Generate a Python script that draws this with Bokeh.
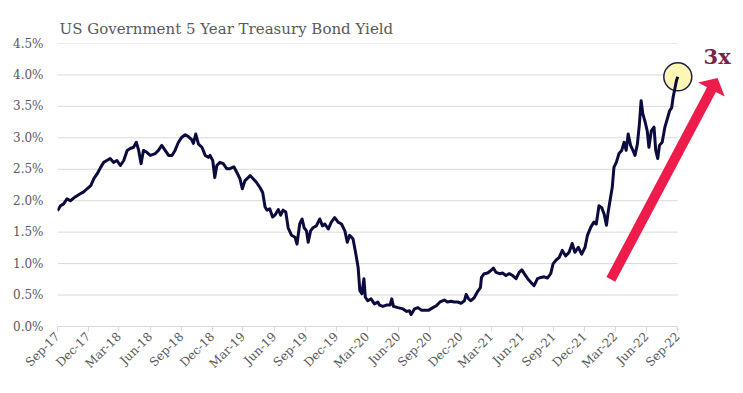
import pandas as pd
from bokeh.plotting import figure
from bokeh.models import (Range1d, FixedTicker, DatetimeTickFormatter, PrintfTickFormatter,
                          PolyAnnotation, Label)
from bokeh.embed import file_html
from bokeh.resources import INLINE

# ---------------- data ----------------
dates = [
    "2017-09-26", "2017-10-05", "2017-10-14", "2017-10-24", "2017-11-03", "2017-11-17",
    "2017-12-02", "2017-12-12", "2017-12-22", "2018-01-02", "2018-01-11", "2018-01-21",
    "2018-01-31", "2018-02-09", "2018-02-18", "2018-02-28", "2018-03-10", "2018-03-20",
    "2018-03-30", "2018-04-09", "2018-04-19", "2018-04-28", "2018-05-08", "2018-05-16",
    "2018-05-23", "2018-05-30", "2018-06-06", "2018-06-16", "2018-06-26", "2018-07-11",
    "2018-07-20", "2018-07-30", "2018-08-09", "2018-08-19", "2018-08-29", "2018-09-07",
    "2018-09-17", "2018-09-27", "2018-10-07", "2018-10-16", "2018-10-26", "2018-10-31",
    "2018-11-07", "2018-11-15", "2018-11-25", "2018-12-05", "2018-12-14", "2018-12-19",
    "2018-12-27", "2019-01-02", "2019-01-08", "2019-01-17", "2019-01-27", "2019-02-06",
    "2019-02-16", "2019-02-27", "2019-03-08", "2019-03-17", "2019-03-24", "2019-04-01",
    "2019-04-11", "2019-04-16", "2019-04-25", "2019-05-05", "2019-05-15", "2019-05-23",
    "2019-05-30", "2019-06-05", "2019-06-13", "2019-06-21", "2019-06-28", "2019-07-08",
    "2019-07-15", "2019-07-22", "2019-07-30", "2019-08-06", "2019-08-16", "2019-08-26",
    "2019-09-01", "2019-09-09", "2019-09-16", "2019-09-22", "2019-09-29", "2019-10-04",
    "2019-10-11", "2019-10-18", "2019-10-28", "2019-11-07", "2019-11-15", "2019-11-22",
    "2019-12-02", "2019-12-11", "2019-12-21", "2019-12-31", "2020-01-10", "2020-01-20",
    "2020-01-27", "2020-02-03", "2020-02-13", "2020-02-21", "2020-02-28", "2020-03-04",
    "2020-03-10", "2020-03-16", "2020-03-20", "2020-03-27", "2020-04-06", "2020-04-16",
    "2020-04-26", "2020-05-01", "2020-05-11", "2020-05-21", "2020-06-01", "2020-06-06",
    "2020-06-11", "2020-06-24", "2020-07-09", "2020-07-20", "2020-07-28", "2020-08-02",
    "2020-08-12", "2020-08-22", "2020-09-01", "2020-09-10", "2020-09-23", "2020-10-05",
    "2020-10-15", "2020-10-26", "2020-11-08", "2020-11-17", "2020-11-27", "2020-12-07",
    "2020-12-17", "2020-12-27", "2021-01-06", "2021-01-11", "2021-01-18", "2021-01-25",
    "2021-02-04", "2021-02-14", "2021-02-22", "2021-02-25", "2021-03-05", "2021-03-15",
    "2021-03-25", "2021-04-01", "2021-04-09", "2021-04-19", "2021-04-28", "2021-05-08",
    "2021-05-18", "2021-05-28", "2021-06-07", "2021-06-16", "2021-06-24", "2021-07-01",
    "2021-07-11", "2021-07-21", "2021-07-30", "2021-08-09", "2021-08-19", "2021-08-29",
    "2021-09-07", "2021-09-17", "2021-09-24", "2021-10-02", "2021-10-12", "2021-10-21",
    "2021-10-31", "2021-11-10", "2021-11-19", "2021-11-27", "2021-12-07", "2021-12-17",
    "2021-12-27", "2022-01-03", "2022-01-13", "2022-01-22", "2022-01-29", "2022-02-06",
    "2022-02-14", "2022-02-21", "2022-02-28", "2022-03-05", "2022-03-12", "2022-03-17",
    "2022-03-22", "2022-03-29", "2022-04-06", "2022-04-14", "2022-04-21", "2022-04-27",
    "2022-05-03", "2022-05-10", "2022-05-17", "2022-05-23", "2022-05-30", "2022-06-05",
    "2022-06-10", "2022-06-15", "2022-06-21", "2022-06-28", "2022-07-03", "2022-07-10",
    "2022-07-18", "2022-07-23", "2022-07-29", "2022-08-03", "2022-08-11", "2022-08-19",
    "2022-08-26", "2022-09-02", "2022-09-08", "2022-09-12", "2022-09-18", "2022-09-22",
    "2022-09-26",
]
yields = [
    1.84, 1.92, 1.95, 2.03, 2.00, 2.06,
    2.11, 2.14, 2.19, 2.24, 2.35, 2.43,
    2.53, 2.61, 2.64, 2.67, 2.61, 2.64,
    2.56, 2.64, 2.80, 2.83, 2.85, 2.93,
    2.80, 2.59, 2.80, 2.77, 2.72, 2.75,
    2.80, 2.88, 2.80, 2.72, 2.72, 2.80,
    2.93, 3.01, 3.05, 3.02, 2.97, 2.91,
    3.06, 2.90, 2.85, 2.72, 2.69, 2.72,
    2.64, 2.37, 2.56, 2.61, 2.59, 2.51,
    2.51, 2.54, 2.45, 2.35, 2.19, 2.32,
    2.37, 2.40, 2.35, 2.29, 2.21, 2.13,
    1.90, 1.85, 1.87, 1.74, 1.77, 1.86,
    1.77, 1.85, 1.82, 1.57, 1.45, 1.42,
    1.31, 1.63, 1.71, 1.57, 1.52, 1.34,
    1.52, 1.57, 1.60, 1.71, 1.60, 1.63,
    1.55, 1.66, 1.73, 1.66, 1.63, 1.52,
    1.34, 1.45, 1.39, 1.16, 0.94, 0.57,
    0.52, 0.76, 0.47, 0.41, 0.44, 0.36,
    0.39, 0.34, 0.32, 0.34, 0.34, 0.44,
    0.32, 0.30, 0.28, 0.24, 0.25, 0.19,
    0.28, 0.30, 0.26, 0.26, 0.26, 0.30,
    0.33, 0.39, 0.42, 0.39, 0.40, 0.39,
    0.39, 0.37, 0.41, 0.51, 0.44, 0.41,
    0.46, 0.56, 0.62, 0.78, 0.84, 0.85,
    0.89, 0.93, 0.86, 0.84, 0.85, 0.81,
    0.84, 0.81, 0.76, 0.86, 0.90, 0.84,
    0.76, 0.70, 0.65, 0.76, 0.78, 0.79,
    0.77, 0.84, 1.00, 1.05, 1.10, 1.21,
    1.12, 1.18, 1.32, 1.18, 1.26, 1.15,
    1.26, 1.45, 1.58, 1.66, 1.63, 1.92,
    1.89, 1.79, 1.61, 1.82, 2.05, 2.21,
    2.53, 2.61, 2.75, 2.80, 2.93, 2.80,
    3.06, 2.88, 2.80, 2.72, 2.90, 3.22,
    3.59, 3.38, 3.27, 3.11, 2.85, 3.11,
    3.17, 2.80, 2.67, 2.88, 2.93, 3.17,
    3.30, 3.43, 3.48, 3.64, 3.80, 3.91,
    3.97,
]
x_tick_dates = [
    "2017-09-26", "2017-12-26", "2018-03-26", "2018-06-26", "2018-09-26", "2018-12-26",
    "2019-03-26", "2019-06-26", "2019-09-26", "2019-12-26", "2020-03-26", "2020-06-26",
    "2020-09-26", "2020-12-26", "2021-03-26", "2021-06-26", "2021-09-26", "2021-12-26",
    "2022-03-26", "2022-06-26", "2022-09-26",
]
y_ticks = [0.0, 0.5, 1.0, 1.5, 2.0, 2.5, 3.0, 3.5, 4.0, 4.5]
title_text = "US Government 5 Year Treasury Bond Yield"
callout_text = "3x"

# ---------------- layout / style ----------------
FONT = "DejaVu Serif"
TEXT_COLOR = "#595959"
GRID_COLOR = "#d9d9d9"
LINE_COLOR = "#0b0b3d"
ARROW_COLOR = "#ee1c4b"
CALLOUT_COLOR = "#7b2150"

W, H = 740, 390
BL, BT = 57, 43
FW = 683
FH = 283
BR = W - BL - FW
BB = H - BT - FH
TICK_SPAN_PX = 620.3     # pixels between first and last x tick


def ms(d):
    return pd.Timestamp(d).value // 10**6


x = [ms(d) for d in dates]
tick_ms = [ms(d) for d in x_tick_dates]
ms_per_px = (tick_ms[-1] - tick_ms[0]) / TICK_SPAN_PX
x_start = tick_ms[0]
x_end = x_start + FW * ms_per_px
y_max = y_ticks[-1]
pct_per_px = y_max / FH

p = figure(width=W, height=H, x_axis_type="datetime",
           x_range=Range1d(x_start, x_end), y_range=Range1d(0, y_max),
           output_backend="svg", toolbar_location=None,
           min_border_left=BL, min_border_right=BR,
           min_border_top=BT, min_border_bottom=BB)
p.outline_line_color = None
p.background_fill_color = "white"
p.border_fill_color = "white"
p.xgrid.visible = False
p.ygrid.visible = False

# title
p.title.text = title_text
p.title.text_font = FONT
p.title.text_font_size = "15px"
p.title.text_font_style = "normal"
p.title.text_color = TEXT_COLOR
p.title.offset = 2
p.title.standoff = 12

# gridlines limited to the date span of the series
n_grid = len(y_ticks) - 1
p.segment(x0=[x[0]] * n_grid, x1=[x[-1]] * n_grid,
          y0=y_ticks[1:], y1=y_ticks[1:], line_color=GRID_COLOR, line_width=1)

# x axis
xa = p.xaxis[0]
xa.ticker = FixedTicker(ticks=tick_ms)
fmt = "%b-%y"
xa.formatter = DatetimeTickFormatter(milliseconds=fmt, seconds=fmt, minsec=fmt, minutes=fmt,
                                     hourmin=fmt, hours=fmt, days=fmt, months=fmt, years=fmt,
                                     context=None)
xa.bounds = (tick_ms[0], tick_ms[-1])
xa.axis_line_color = GRID_COLOR
xa.major_tick_line_color = GRID_COLOR
xa.major_tick_out = 5
xa.major_tick_in = 0
xa.minor_tick_line_color = None
xa.major_label_orientation = 0.785398
xa.major_label_text_font = FONT
xa.major_label_text_font_size = "12px"
xa.major_label_text_color = TEXT_COLOR
xa.major_label_standoff = 3

# y axis
ya = p.yaxis[0]
ya.ticker = FixedTicker(ticks=y_ticks)
ya.formatter = PrintfTickFormatter(format="%.1f%%")
ya.axis_line_color = None
ya.major_tick_line_color = None
ya.minor_tick_line_color = None
ya.major_tick_out = 0
ya.major_label_standoff = 14
ya.major_label_text_font = FONT
ya.major_label_text_font_size = "12px"
ya.major_label_text_color = TEXT_COLOR

# highlight circle at the latest point (under the line)
p.scatter(x=[x[-1]], y=[yields[-1]], marker="circle", size=28,
          fill_color="#fcf7b4", line_color="#1c1c4a", line_width=1.5)

# the yield line
p.line(x, yields, line_color=LINE_COLOR, line_width=3, line_join="round")

# big arrow (shape computed in pixel space, converted to data units)
arrow_tail = ("2022-03-13", 0.75)
arrow_tip = ("2023-01-21", 3.95)
SHAFT_W, HEAD_W, HEAD_L = 10.0, 30.0, 13.0


def to_px(t, v):
    return ((t - x_start) / ms_per_px, v / pct_per_px)


def to_data(px, py):
    return (x_start + px * ms_per_px, py * pct_per_px)


tx, ty = to_px(ms(arrow_tail[0]), arrow_tail[1])
hx, hy = to_px(ms(arrow_tip[0]), arrow_tip[1])
L = ((hx - tx) ** 2 + (hy - ty) ** 2) ** 0.5
ux, uy = (hx - tx) / L, (hy - ty) / L
nx, ny = -uy, ux
bx, by = hx - HEAD_L * ux, hy - HEAD_L * uy
pts = [
    (tx + SHAFT_W / 2 * nx, ty + SHAFT_W / 2 * ny),
    (bx + SHAFT_W / 2 * nx, by + SHAFT_W / 2 * ny),
    (bx + HEAD_W / 2 * nx, by + HEAD_W / 2 * ny),
    (hx, hy),
    (bx - HEAD_W / 2 * nx, by - HEAD_W / 2 * ny),
    (bx - SHAFT_W / 2 * nx, by - SHAFT_W / 2 * ny),
    (tx - SHAFT_W / 2 * nx, ty - SHAFT_W / 2 * ny),
]
dpts = [to_data(a, b) for a, b in pts]
p.add_layout(PolyAnnotation(xs=[a for a, _ in dpts], ys=[b for _, b in dpts],
                            fill_color=ARROW_COLOR, fill_alpha=1.0, line_color=None))

# "3x" callout
p.add_layout(Label(x=ms("2022-12-11"), y=4.30, text=callout_text, text_font=FONT,
                   text_font_size="21px", text_font_style="bold", text_color=CALLOUT_COLOR,
                   text_baseline="middle", text_align="left"))

open("out.html", "w").write(file_html(p, INLINE))
